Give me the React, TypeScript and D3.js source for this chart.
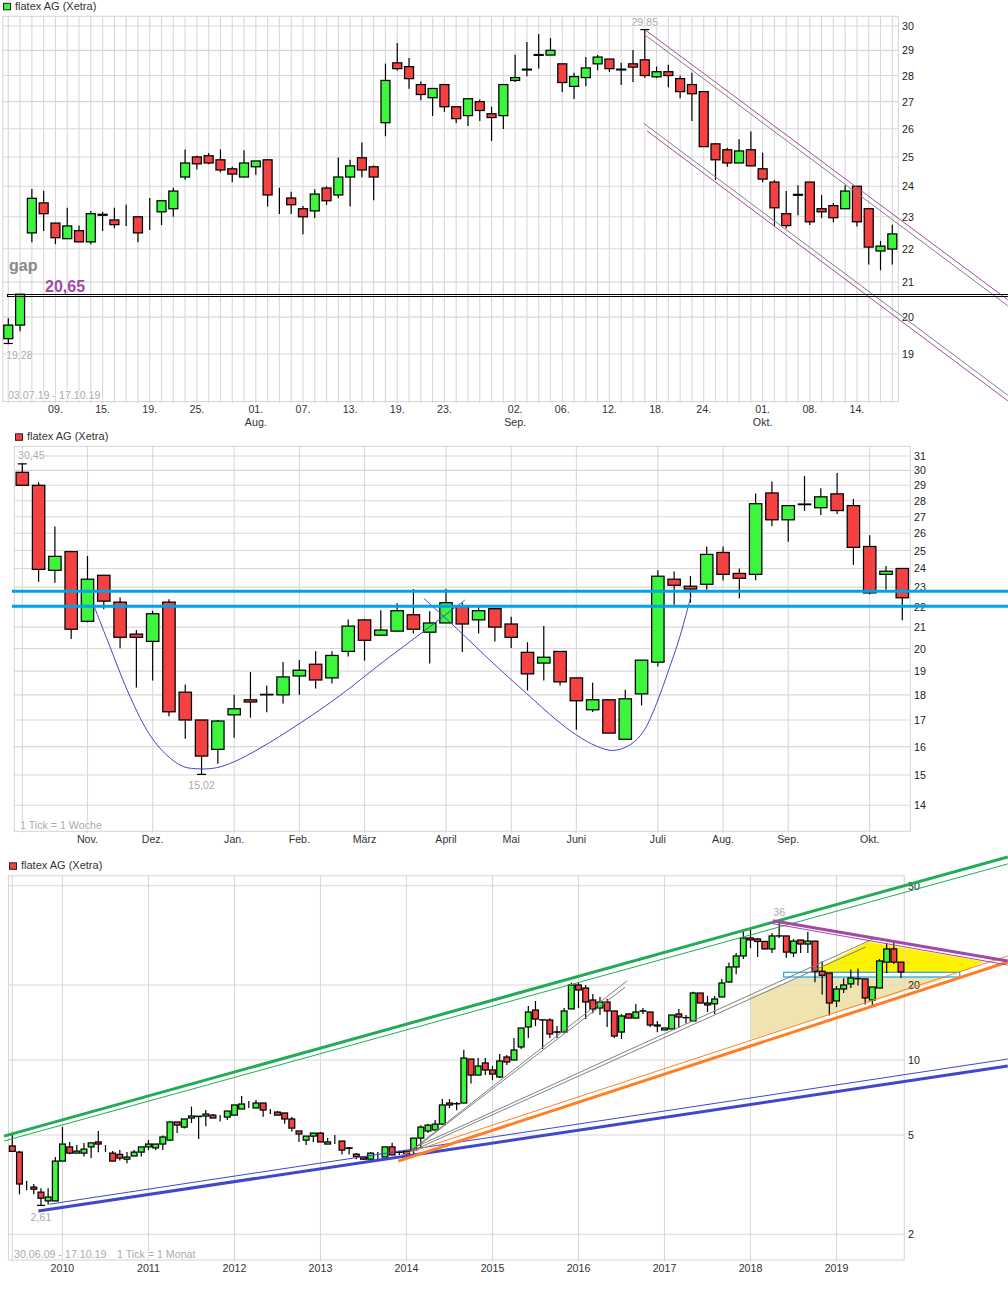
import React from 'react'
import * as d3 from 'd3'

// daily chart, 03.07.19 - 17.10.19
const dayOpen = [19.41,19.78,22.49,23.45,22.80,22.31,22.56,22.21,23.08,22.90,22.97,23.0,22.90,23.16,23.26,24.31,25.0,25.04,24.90,24.59,24.31,24.66,24.90,23.74,23.61,23.26,23.19,23.94,23.71,24.31,24.97,24.66,26.22,28.50,28.35,27.65,27.15,27.65,26.81,26.48,27.0,26.55,26.48,27.81,28.25,28.83,28.81,28.46,27.58,27.92,28.46,28.65,28.25,28.46,28.62,27.95,28.15,27.88,27.65,27.38,25.46,25.25,24.79,25.25,24.59,24.14,23.10,23.73,24.14,23.26,23.36,23.26,24.0,23.26,21.93,21.99]
const dayClose = [19.78,20.65,23.60,23.10,22.34,22.71,22.21,23.10,23.05,22.75,22.97,22.49,22.90,23.52,23.84,24.79,24.76,24.79,24.55,24.41,24.79,24.86,23.71,23.74,23.39,23.0,23.74,23.52,24.31,24.69,24.55,24.31,27.81,28.27,27.88,27.27,27.50,26.81,26.37,27.11,26.67,26.41,27.65,27.92,28.22,28.80,29.0,27.73,27.96,28.30,28.73,28.27,28.22,28.33,28.0,28.15,28.0,27.38,27.30,25.36,24.90,24.79,25.21,24.69,24.24,23.29,22.72,23.70,22.84,23.16,22.97,23.84,22.84,22.05,22.08,22.46]
const dayHigh = [19.97,20.65,23.91,23.85,22.80,23.29,22.72,23.19,23.16,23.29,23.39,23.0,23.61,23.52,23.95,25.26,25.04,25.14,25.26,24.66,25.23,24.86,24.90,23.95,23.82,23.35,23.90,24.0,24.98,24.90,25.51,24.70,28.47,29.30,28.69,27.77,27.5,27.65,26.81,27.11,27.08,26.81,27.65,28.82,29.34,29.67,29.50,28.46,28.11,28.73,28.81,28.65,28.50,29.01,29.85,28.35,28.42,28.0,28.11,27.38,25.46,25.32,25.62,25.90,25.15,24.21,23.84,24.03,24.14,23.71,23.45,24.03,24.0,23.26,22.24,22.75]
const dayLow = [19.28,19.61,22.20,22.55,22.14,22.31,22.21,22.14,22.55,22.64,22.71,22.20,22.58,22.74,23.0,24.22,24.57,24.75,24.47,24.13,24.31,24.39,23.33,23.09,23.09,22.45,22.96,23.38,23.60,23.33,24.30,23.54,25.73,28.20,27.49,27.05,26.47,26.62,26.21,26.10,26.28,25.56,25.99,27.75,27.97,28.28,28.81,27.37,27.10,27.59,28.21,28.14,27.63,27.75,27.90,27.90,27.55,27.13,26.28,25.36,24.21,24.66,24.79,24.69,24.13,22.71,22.64,23.05,22.74,22.96,22.83,23.26,22.69,21.52,21.35,21.52]
const dayPriceTicks = [30,29,28,27,26,25,24,23,22,21,20,19]
const dayDateIndex = [4,8,12,16,21,25,29,33,37,43,47,51,55,59,64,68,72]
const dayDateLabels = ['09.','15.','19.','25.','01.','07.','13.','19.','23.','02.','06.','12.','18.','24.','01.','08.','14.']
const dayMonthIndex = [21,43,64]
const dayMonthLabels = ['Aug.','Sep.','Okt.']
const dayGap = [20.65,20.6]
const dayChannels: [number,number][][] = [
  [[54,29.85],[84.8,20.49]],
  [[54.2,25.92],[84.8,17.80]],
]
const dayChannelsGrey: [number,number][][] = [
  [[53.9,29.67],[84.8,20.32]],
  [[53.9,26.20],[84.8,17.94]],
]

// weekly chart
const weekOpen = [29.87,29.0,23.9,24.94,21.28,23.63,22.23,20.67,20.33,22.23,18.11,17.0,15.9,17.2,17.8,18.02,18.0,18.79,19.3,18.71,19.87,21.35,20.62,20.81,21.6,20.76,21.2,22.03,21.35,21.9,21.15,19.83,19.35,19.87,18.71,17.4,17.8,16.27,18.04,19.39,23.42,23.05,23.15,24.89,23.73,23.68,28.5,26.81,27.79,27.56,28.44,27.69,25.23,23.68,24.0]
const weekClose = [29.0,23.95,24.67,20.9,23.42,22.28,20.52,20.52,21.65,17.32,17.0,15.66,16.96,17.44,17.71,18.0,18.75,19.04,18.62,19.69,21.05,20.38,20.86,21.8,20.9,21.2,22.2,21.15,21.8,21.0,20.52,18.88,19.61,18.54,17.76,17.8,16.5,17.84,19.48,23.58,23.1,22.9,24.78,23.68,23.47,27.81,26.81,27.69,27.75,28.25,27.38,25.18,22.7,23.85,22.45]
const weekHigh = [30.45,29.2,26.4,24.94,24.69,23.63,22.47,20.86,21.8,22.37,18.43,17.0,17.0,18.0,18.96,18.39,19.4,19.49,19.88,19.88,21.37,21.4,21.82,22.17,22.9,21.77,22.92,22.2,22.03,21.9,21.5,20.29,21.05,19.87,18.71,18.5,17.8,18.21,19.48,23.9,23.84,23.6,25.23,25.23,24.0,28.46,29.25,27.69,29.62,28.81,29.82,28.12,25.88,24.13,24.0]
const weekLow = [29.0,23.28,23.23,20.44,21.23,21.87,20.02,18.3,18.6,17.15,16.29,15.02,15.39,16.33,17.09,17.3,17.65,18.01,18.26,18.47,19.64,19.46,20.62,20.81,20.7,19.33,21.2,19.85,20.7,20.32,20.03,18.18,18.6,18.39,16.63,17.31,16.5,16.27,17.57,19.2,22.1,22.2,22.87,23.35,22.43,23.37,26.42,25.51,27.35,27.1,27.17,24.2,22.63,22.87,21.33]
const weekPriceTicks = [31,30,29,28,27,26,25,24,23,22,21,20,19,18,17,16,15,14]
const weekMonthIndex = [4,8,13,17,21,26,30,34,39,43,47,52]
const weekMonthLabels = ['Nov.','Dez.','Jan.','Feb.','März','April','Mai','Juni','Juli','Aug.','Sep.','Okt.']
const weekLevels = [22.79,22.02]
const weekCupLeft: [number,number][] = [[4.38,22.08],[5.38,20.08],[6.61,17.93],[7.83,16.43],[8.85,15.70],[9.88,15.29],[10.9,15.21],[11.92,15.25],[13.0,15.46],[14.58,15.94],[17.03,16.87],[19.49,17.97],[22.15,19.41],[24.6,20.78],[27.16,22.34]]
const weekCupRight: [number,number][] = [[24.64,22.42],[26.65,20.94],[28.9,19.34],[30.94,18.06],[32.78,17.0],[34.0,16.43],[35.23,16.02],[36.26,15.86],[37.28,16.06],[38.1,16.55],[38.92,17.65],[39.63,18.98],[40.35,20.55],[41.04,22.56]]

// monthly chart, 30.06.09 - 17.10.19
const monthOpen = [4.52,4.27,3.12,3.09,2.95,2.72,2.72,3.93,4.48,4.23,4.23,4.48,4.69,4.27,4.23,4.18,4.0,4.12,4.27,4.48,4.44,4.60,4.77,5.64,5.38,5.85,5.95,5.96,6.01,5.94,5.90,6.01,6.36,6.50,6.42,6.72,6.30,6.18,6.13,5.80,5.19,4.77,4.95,5.09,4.60,4.76,4.73,4.44,4.19,4.08,4.0,4.18,4.08,4.48,4.28,4.31,4.34,4.86,5.19,5.24,5.53,6.72,6.68,6.72,10.09,8.70,9.73,9.12,8.55,10.28,10.0,11.28,13.57,15.87,14.49,14.47,12.97,12.95,16.03,20.0,19.45,17.41,16.17,17.09,15.73,12.95,15.3,14.73,15.75,15.58,13.82,13.2,13.32,15.3,14.80,14.34,18.57,16.93,16.8,17.9,20.56,23.62,26.15,30.88,30.6,29.9,27.9,31.48,31.46,26.9,30.3,29.2,30.0,22.7,22.34,17.25,19.27,20.2,21.22,21.15,17.41,19.45,24.7,27.9,24.7]
const monthClose = [4.30,3.18,3.12,3.03,2.79,2.82,3.93,4.60,4.23,4.31,4.39,4.65,4.60,4.27,3.93,4.04,4.08,4.27,4.48,4.60,4.60,4.91,5.64,5.48,5.80,5.96,5.93,6.07,5.85,5.94,6.24,6.60,6.66,6.50,6.72,6.30,6.30,6.01,5.80,5.33,5.05,4.95,5.09,4.69,4.69,4.76,4.35,4.42,4.10,4.0,4.23,4.18,4.48,4.16,4.26,4.21,4.86,5.38,5.48,5.53,6.60,6.60,6.67,10.18,8.70,9.46,9.12,8.78,9.91,9.82,10.97,13.44,15.58,14.6,14.47,12.72,12.93,15.73,20.0,19.1,17.09,16.03,17.09,15.73,12.48,15.02,14.73,15.58,15.71,13.82,13.69,13.44,15.15,14.88,14.78,18.57,16.93,16.63,17.57,20.37,23.62,26.15,30.88,30.32,29.9,27.9,31.46,31.44,27.1,30.0,29.2,30.0,22.7,21.87,16.93,19.27,20.0,21.35,21.18,17.74,19.63,24.97,27.9,24.7,22.55]
const monthHigh = [5.01,4.32,3.28,3.18,3.06,3.06,4.08,5.38,4.69,4.56,4.65,4.65,5.19,4.56,4.31,4.35,4.27,4.35,4.48,4.77,4.60,4.98,5.64,5.64,5.80,6.50,5.95,6.30,6.07,6.01,6.24,6.60,7.17,6.84,6.91,6.72,6.36,6.24,6.13,5.90,5.19,4.95,5.09,5.14,4.87,5.0,4.73,4.47,4.23,4.08,4.27,4.27,4.48,4.66,4.32,4.31,4.86,5.47,5.53,5.75,6.97,6.97,6.78,11.0,10.09,10.18,10.18,9.46,10.57,10.47,12.25,13.44,16.47,17.25,14.49,14.7,13.69,16.17,20.4,20.4,20.0,18.4,17.9,17.6,15.73,15.3,15.4,16.79,16.17,15.58,14.34,13.44,15.15,16.03,15.15,18.8,18.57,18.07,18.07,21.15,24.6,26.88,32.84,33.5,30.88,29.9,32.3,36.0,31.46,30.6,30.3,32.7,30.0,24.9,22.34,19.8,21.3,23.1,23.3,21.15,19.63,25.4,29.48,29.7,24.7]
const monthLow = [4.30,2.89,3.0,2.89,2.61,2.63,2.72,3.93,4.19,4.23,4.10,4.04,4.26,4.27,3.93,3.95,3.85,4.12,4.10,4.35,4.35,4.35,4.73,5.09,5.31,5.59,4.82,5.42,5.85,5.66,5.74,6.01,6.36,6.42,6.42,5.92,6.07,6.01,5.55,5.17,4.69,4.56,4.69,4.69,4.60,4.60,4.18,4.18,4.0,3.98,3.98,4.0,4.08,4.16,4.16,4.10,4.10,4.43,5.09,5.24,5.53,6.42,6.28,6.72,8.04,8.70,8.70,8.30,8.47,9.55,10.0,11.07,12.25,13.69,11.07,12.25,12.25,12.95,16.03,16.17,14.6,15.4,15.15,13.57,12.25,12.14,14.73,14.73,15.3,13.57,12.92,13.2,13.32,13.44,14.0,14.34,16.93,15.58,15.3,17.9,20.37,22.1,25.4,28.16,25.9,27.9,26.9,30.88,25.7,25.9,26.9,26.9,20.5,18.3,15.07,16.3,18.57,19.45,19.9,16.68,16.3,19.45,22.34,24.3,21.35]
const monthPriceTicks = [50,20,10,5,2]
const yearIndex = [7,19,31,43,55,67,79,91,103,115]
const yearLabels = ['2010','2011','2012','2013','2014','2015','2016','2017','2018','2019']
const monthTrendGreen: [number,number][] = [[-1.16,4.95],[138.9,65.3]]
const monthTrendGreenThin: [number,number][] = [[-1.16,4.73],[138.9,61.2]]
const monthTrendBlue: [number,number][] = [[3.63,2.48],[138.9,9.46]]
const monthTrendBlueThin: [number,number][] = [[5.16,2.64],[138.9,10.09]]
const monthTrendOrange: [number,number][] = [[53.86,3.93],[138.9,24.74]]
const monthTrendOrangeThin: [number,number][] = [[54.33,4.16],[138.9,26.15]]
const monthTrendPurple: [number,number][] = [[106.14,36.2],[138.9,24.97]]
const monthTrendPurpleThin: [number,number][] = [[105.44,35.5],[138.9,24.06]]
const monthFanGrey: [number,number][][] = [
  [[55.73,4.35],[85.81,20.81]],
  [[55.25,4.22],[85.49,19.58]],
  [[55.91,4.43],[120.33,30.8]],
  [[55.49,4.28],[119.1,28.42]],
]
const monthYellowArea: [number,number][] = [[111.44,22.55],[119.4,29.84],[135.68,24.8],[131.96,22.35]]
const monthTanArea: [number,number][] = [[102.97,17.9],[110.46,21.73],[131.5,21.73],[102.97,12.09]]
const monthBox = { from: 107.63, to: 132.2, top: 22.49, bottom: 21.53 }

const RED = '#f44242'
const GREEN = '#3cf53c'
const GRID = '#d8d8d8'
const FONT = '"Liberation Sans", Arial, sans-serif'
const TICK_SIZE = 10.67

const xDay = d3.scaleLinear().domain([0, 75]).range([8.3, 892.3])
const yDay = d3.scaleLog().domain([30, 19]).range([26, 354])
const xWeek = d3.scaleLinear().domain([0, 54]).range([22.3, 902.3])
const yWeek = d3.scaleLog().domain([31, 14]).range([456, 805.3])
const xMonth = d3.scaleLinear().domain([0, 124]).range([12.3, 901])
const yMonth = d3.scaleLog().domain([10, 2]).range([1060, 1234.2])

type Scale = (v: number) => number

const Candles = ({ x, y, open, close, high, low, width }: {
  x: Scale, y: Scale, open: number[], close: number[], high: number[], low: number[], width: number
}) => (
  <g>
    {open.map((o, i) => {
      const c = close[i]
      const top = y(Math.max(o, c))
      const bottom = y(Math.min(o, c))
      return (
        <g key={i}>
          <line x1={x(i)} x2={x(i)} y1={y(high[i])} y2={y(low[i])} stroke="#000" strokeWidth={1.2} />
          <rect x={x(i) - width / 2} y={top} width={width} height={bottom - top}
            fill={c >= o ? GREEN : RED} stroke="#000" strokeWidth={1.25} />
        </g>
      )
    })}
  </g>
)

const Legend = ({ left, base, color }: { left: number, base: number, color: string }) => (
  <g>
    <rect x={left + 0.5} y={base - 6.2} width={7} height={6.5} fill={color} stroke="#222" strokeWidth={1} />
    <text x={left + 12} y={base} fontSize={11} fill="#333">flatex AG (Xetra)</text>
  </g>
)

const Frame = ({ left, right, top, bottom, yTicks, y, xLines, x, labelX }: {
  left: number, right: number, top: number, bottom: number, yTicks: number[], y: Scale,
  xLines: number[], x: Scale, labelX: number
}) => (
  <g>
    {yTicks.map(t => <line key={t} x1={left} x2={right} y1={y(t)} y2={y(t)} stroke={GRID} strokeWidth={1.1} />)}
    {xLines.map(i => <line key={i} x1={x(i)} x2={x(i)} y1={top} y2={bottom + 1.5} stroke={GRID} strokeWidth={1.1} />)}
    <rect x={left} y={top} width={right - left} height={bottom - top} fill="none" stroke={GRID} strokeWidth={1.1} />
    {yTicks.map(t => <text key={t} x={labelX} y={y(t) + 4} fontSize={TICK_SIZE} fill="#222">{t}</text>)}
  </g>
)

const Note = ({ x, y, children, anchor = 'start' }: { x: number, y: number, children: string, anchor?: string }) => (
  <text x={x} y={y} fontSize={TICK_SIZE} fill="#aaa" textAnchor={anchor as any}
    stroke="#fff" strokeWidth={1.5} paintOrder="stroke">{children}</text>
)

const Cap = ({ x, y, half }: { x: number, y: number, half: number }) => (
  <line x1={x - half} x2={x + half} y1={y} y2={y} stroke="#000" strokeWidth={1.2} />
)

const App = () => {
  const dayLine = d3.line<[number, number]>().x(d => xDay(d[0])).y(d => yDay(d[1]))
  const weekCurve = d3.line<[number, number]>().x(d => xWeek(d[0])).y(d => yWeek(d[1])).curve(d3.curveCatmullRom)
  const monthLine = d3.line<[number, number]>().x(d => xMonth(d[0])).y(d => yMonth(d[1]))
  const monthArea = (pts: [number, number][]) => monthLine(pts) + 'Z'
  const gapTop = Math.round(yDay(dayGap[0])) + 0.5
  const gapBottom = Math.round(yDay(dayGap[1])) + 0.5

  return (
    <svg width={1008} height={1314} style={{ position: 'absolute', left: 0, top: 0, fontFamily: FONT }}>
      <rect width={1008} height={1314} fill="#fff" />

      {/* daily */}
      <Legend left={3} base={9.5} color={GREEN} />
      <Frame left={2.8} right={898.3} top={16.3} bottom={401.5} yTicks={dayPriceTicks} y={yDay}
        xLines={dayOpen.map((_, i) => i)} x={xDay} labelX={902} />
      {dayDateIndex.map((i, k) => (
        <text key={i} x={xDay(i)} y={412.7} fontSize={TICK_SIZE} fill="#333" textAnchor="middle">{dayDateLabels[k]}</text>
      ))}
      {dayMonthIndex.map((i, k) => (
        <text key={i} x={xDay(i)} y={425.7} fontSize={TICK_SIZE} fill="#333" textAnchor="middle">{dayMonthLabels[k]}</text>
      ))}
      <Note x={8} y={399}>03.07.19 - 17.10.19</Note>
      <Candles x={xDay} y={yDay} open={dayOpen} close={dayClose} high={dayHigh} low={dayLow} width={9} />
      <Cap x={xDay(0)} y={yDay(19.28)} half={4.5} />
      <Cap x={xDay(54)} y={yDay(29.85)} half={4.5} />
      <Note x={xDay(0) + 11} y={359} anchor="middle">19,28</Note>
      <Note x={xDay(54)} y={25.7} anchor="middle">29,85</Note>
      {dayChannels.map((d, i) => <path key={i} d={dayLine(d)!} fill="none" stroke="#a349a4" strokeWidth={1} />)}
      {dayChannelsGrey.map((d, i) => <path key={i} d={dayLine(d)!} fill="none" stroke="#808080" strokeWidth={1} />)}
      <rect x={Math.round(xDay(-0.085)) + 0.5} y={gapTop} width={1010} height={gapBottom - gapTop}
        fill="none" stroke="#000" strokeWidth={1} />
      <text x={9} y={271} fontSize={16} fontWeight="bold" fill="#888">gap</text>
      <text x={45} y={291.7} fontSize={16} fontWeight="bold" fill="#a349a4">20,65</text>

      {/* weekly */}
      <Legend left={15} base={440} color={RED} />
      <Frame left={14.3} right={910.3} top={446.3} bottom={831.3} yTicks={weekPriceTicks} y={yWeek}
        xLines={[0, ...weekMonthIndex]} x={xWeek} labelX={914} />
      {weekMonthIndex.map((i, k) => (
        <text key={i} x={xWeek(i)} y={842.7} fontSize={TICK_SIZE} fill="#333" textAnchor="middle">{weekMonthLabels[k]}</text>
      ))}
      <Note x={20} y={829}>1 Tick = 1 Woche</Note>
      <Candles x={xWeek} y={yWeek} open={weekOpen} close={weekClose} high={weekHigh} low={weekLow} width={12.4} />
      <Cap x={xWeek(0)} y={yWeek(30.45)} half={4.5} />
      <Cap x={xWeek(11)} y={yWeek(15.02)} half={4.5} />
      <Note x={xWeek(0) + 9} y={459} anchor="middle">30,45</Note>
      <Note x={xWeek(11)} y={789} anchor="middle">15,02</Note>
      <path d={weekCurve(weekCupLeft)!} fill="none" stroke="#3f48cc" strokeWidth={1} />
      <path d={weekCurve(weekCupRight)!} fill="none" stroke="#3f48cc" strokeWidth={1} />
      {weekLevels.map(v => (
        <line key={v} x1={12} x2={1008} y1={yWeek(v)} y2={yWeek(v)} stroke="#00a2e8" strokeWidth={3} />
      ))}

      {/* monthly */}
      <Legend left={9} base={869} color={RED} />
      <path d={monthArea(monthTanArea)} fill="#efe4b0" />
      <path d={monthArea(monthYellowArea)} fill="#fff200" />
      <Frame left={8.5} right={904.3} top={875.8} bottom={1260} yTicks={monthPriceTicks} y={yMonth}
        xLines={[0, ...yearIndex]} x={xMonth} labelX={908} />
      {yearIndex.map((i, k) => (
        <text key={i} x={xMonth(i)} y={1272} fontSize={TICK_SIZE} fill="#333" textAnchor="middle">{yearLabels[k]}</text>
      ))}
      <Note x={14} y={1258}>30.06.09 - 17.10.19</Note>
      <Note x={117} y={1258}>1 Tick = 1 Monat</Note>
      <rect x={xMonth(monthBox.from)} y={yMonth(monthBox.top)} width={xMonth(monthBox.to) - xMonth(monthBox.from)}
        height={yMonth(monthBox.bottom) - yMonth(monthBox.top)} fill="#fff" fillOpacity={0.8} stroke="#00a2e8" strokeWidth={1.1} />
      <Candles x={xMonth} y={yMonth} open={monthOpen} close={monthClose} high={monthHigh} low={monthLow} width={5.8} />
      <Cap x={xMonth(4)} y={yMonth(2.61)} half={4} />
      <Note x={xMonth(4)} y={1221} anchor="middle">2,61</Note>
      <Note x={xMonth(107)} y={916} anchor="middle">36</Note>
      {monthFanGrey.map((d, i) => <path key={i} d={monthLine(d)!} fill="none" stroke="#808080" strokeWidth={1} />)}
      <path d={monthLine(monthTrendGreen)!} fill="none" stroke="#22ac55" strokeWidth={3} />
      <path d={monthLine(monthTrendGreenThin)!} fill="none" stroke="#22ac55" strokeWidth={1} />
      <path d={monthLine(monthTrendBlue)!} fill="none" stroke="#3f48cc" strokeWidth={3} />
      <path d={monthLine(monthTrendBlueThin)!} fill="none" stroke="#3f48cc" strokeWidth={1} />
      <path d={monthLine(monthTrendOrange)!} fill="none" stroke="#ff7f27" strokeWidth={3} />
      <path d={monthLine(monthTrendOrangeThin)!} fill="none" stroke="#ff7f27" strokeWidth={1} />
      <path d={monthLine(monthTrendPurple)!} fill="none" stroke="#a349a4" strokeWidth={3} />
      <path d={monthLine(monthTrendPurpleThin)!} fill="none" stroke="#a349a4" strokeWidth={1} />
    </svg>
  )
}

export default App
